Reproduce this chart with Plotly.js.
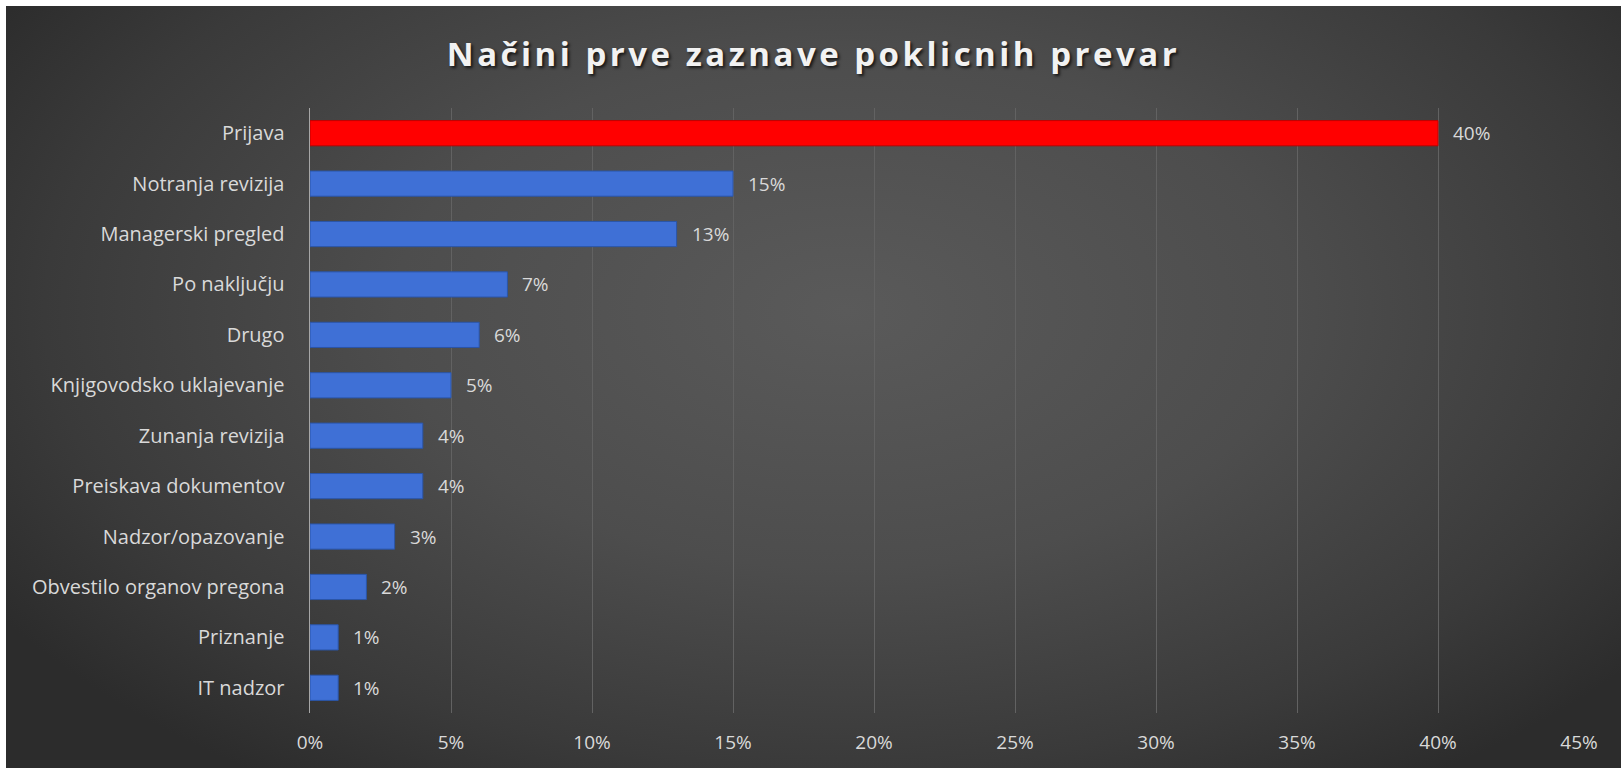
<!DOCTYPE html>
<html>
<head>
<meta charset="utf-8">
<script src="https://cdn.plot.ly/plotly-3.0.1.min.js"></script>
<style>
  html, body { margin: 0; padding: 0; background: #ffffff; width: 1621px; height: 768px; overflow: hidden; }
  #wrap {
    position: absolute; left: 6px; top: 6px; width: 1615px; height: 762px;
    background: radial-gradient(ellipse 62% 75% at 52% 40%, #5a5a5a 0%, #4d4d4d 45%, #3a3a3a 80%, #2c2c2c 100%);
  }
  #chart { width: 1615px; height: 762px; }
  .gtitle { letter-spacing: 3.5px; }
</style>
</head>
<body>
<div id="wrap"><div id="chart"></div></div>
<script>
const categories = ["Prijava", "Notranja revizija", "Managerski pregled", "Po naključju", "Drugo",
  "Knjigovodsko uklajevanje", "Zunanja revizija", "Preiskava dokumentov", "Nadzor/opazovanje",
  "Obvestilo organov pregona", "Priznanje", "IT nadzor"];
const values = [40, 15, 13, 7, 6, 5, 4, 4, 3, 2, 1, 1];
const xTicks = [0, 5, 10, 15, 20, 25, 30, 35, 40, 45];
const xTickLabels = xTicks.map(v => v + "%");

const barColors = values.map((v, i) => i === 0 ? "#ff0000" : "#3f70d6");
const lineColors = values.map((v, i) => i === 0 ? "#c00000" : "#2a55a8");

const trace = {
  type: "bar",
  orientation: "h",
  x: values,
  y: categories,
  width: 0.5,
  marker: { color: barColors, line: { color: lineColors, width: 1 } },
  hoverinfo: "skip"
};

const annotations = values.map((v, i) => ({
  x: v, y: categories[i], xref: "x", yref: "y",
  text: v + "%", showarrow: false, xanchor: "left", yanchor: "middle", xshift: 13,
  font: { family: "Open Sans, sans-serif", size: 19, color: "#d9d9d9" }
}));

const layout = {
  width: 1615, height: 762,
  paper_bgcolor: "rgba(0,0,0,0)",
  plot_bgcolor: "rgba(0,0,0,0)",
  margin: { l: 304, r: 42, t: 102, b: 55 },
  showlegend: false,
  title: {
    text: "Načini prve zaznave poklicnih prevar",
    x: 0.5, xref: "container", xanchor: "center",
    y: 0.937, yref: "container", yanchor: "middle",
    font: { family: "Open Sans, sans-serif", size: 33, color: "#f2f2f2", weight: 700, shadow: "2px 2px 3px rgba(0,0,0,0.7)" }
  },
  xaxis: {
    range: [0, 45], tickvals: xTicks, ticktext: xTickLabels,
    showgrid: true, gridcolor: "#626262", gridwidth: 1,
    zeroline: false, showline: false, ticks: "",
    ticklabelstandoff: 16,
    tickfont: { family: "Open Sans, sans-serif", size: 19, color: "#d9d9d9" },
    fixedrange: true
  },
  yaxis: {
    type: "category", autorange: "reversed",
    showgrid: false, zeroline: false,
    showline: true, linecolor: "#a6a6a6", linewidth: 1.5,
    ticks: "", ticklabelstandoff: 20,
    tickfont: { family: "Open Sans, sans-serif", size: 20, color: "#d9d9d9" },
    fixedrange: true
  },
  annotations: annotations
};

Plotly.newPlot("chart", [trace], layout, { displayModeBar: false, staticPlot: true });
</script>
</body>
</html>
